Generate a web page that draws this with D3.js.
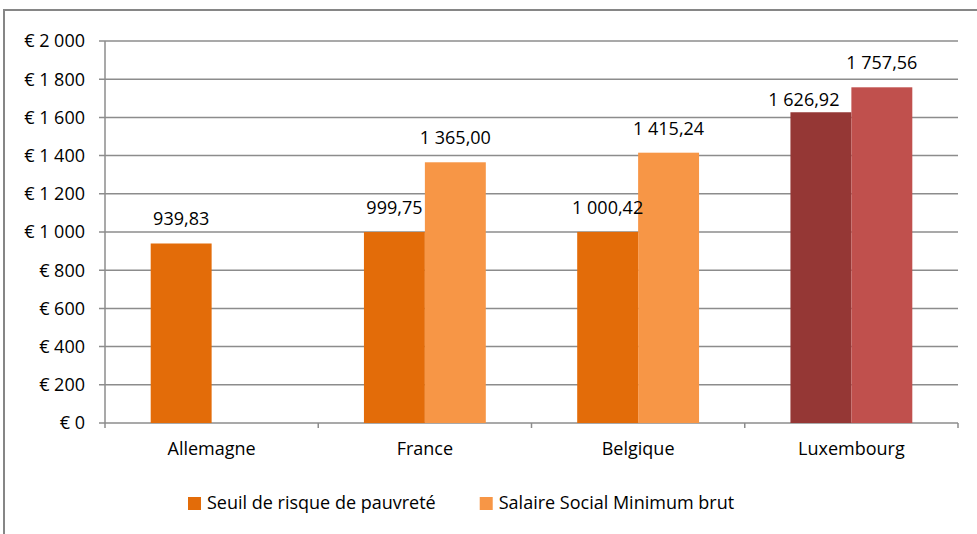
<!DOCTYPE html>
<html>
<head>
<meta charset="utf-8">
<script src="https://cdn.jsdelivr.net/npm/d3@7"></script>
<style>
  body { margin: 0; background: #fff; }
  svg text { font-family: "Open Sans", "Noto Sans", sans-serif; fill: #000; }
</style>
</head>
<body>
<div id="chart"></div>
<script>
// data
const categories = ["Allemagne", "France", "Belgique", "Luxembourg"];
const seriesNames = ["Seuil de risque de pauvreté", "Salaire Social Minimum brut"];
const seuil = [939.83, 999.75, 1000.42, 1626.92];
const salaire = [null, 1365.00, 1415.24, 1757.56];
const yTicks = [0, 200, 400, 600, 800, 1000, 1200, 1400, 1600, 1800, 2000];

const width = 977, height = 534;
const fontSize = 18;
const seriesColors = ["#E36C09", "#F79646"];
// Luxembourg bars are coloured differently in the original
const pointColors = {"Luxembourg": ["#953735", "#C0504D"]};
// Excel moved one label to avoid overlap
const labelNudge = {"Luxembourg|0": {dx: -17, dy: 12}};

const plot = {left: 105, right: 958, top: 41, bottom: 423};

const svg = d3.select("#chart").append("svg")
  .attr("width", width)
  .attr("height", height);

// outer chart frame (right/bottom edges fall outside the picture)
svg.append("rect")
  .attr("x", 4).attr("y", 10)
  .attr("width", width + 10).attr("height", height + 10)
  .attr("fill", "none")
  .attr("stroke", "#868686")
  .attr("stroke-width", 2);

const x = d3.scaleBand()
  .domain(categories)
  .range([plot.left, plot.right])
  .paddingInner(0)
  .paddingOuter(0);

const x1 = d3.scaleBand()
  .domain([0, 1])
  .range([0, x.bandwidth()])
  .paddingOuter(0.75)
  .paddingInner(0);

const y = d3.scaleLinear()
  .domain([0, 2000])
  .range([plot.bottom, plot.top]);

const fmt = d3.formatLocale({decimal: ",", thousands: "\u00a0", grouping: [3], currency: ["€\u00a0", ""]});
const tickFmt = v => "€\u00a0" + fmt.format(",d")(v);
const labelFmt = fmt.format(",.2f");

// gridlines
svg.append("g")
  .selectAll("line")
  .data(yTicks)
  .join("line")
  .attr("x1", plot.left - 6)
  .attr("x2", plot.right)
  .attr("y1", d => y(d))
  .attr("y2", d => y(d))
  .attr("stroke", "#8c8c8c")
  .attr("stroke-width", 1.5);

// y axis line
svg.append("line")
  .attr("x1", plot.left).attr("x2", plot.left)
  .attr("y1", plot.top).attr("y2", plot.bottom + 5)
  .attr("stroke", "#8c8c8c")
  .attr("stroke-width", 1.5);

// y tick labels
svg.append("g")
  .selectAll("text")
  .data(yTicks)
  .join("text")
  .attr("x", 85)
  .attr("y", d => y(d))
  .attr("dy", "0.35em")
  .attr("text-anchor", "end")
  .style("font-size", fontSize + "px")
  .text(tickFmt);

// x axis tick marks at band edges
const edges = categories.map(c => x(c) + x.bandwidth()).slice(0, 4);
svg.append("g")
  .selectAll("line")
  .data(edges)
  .join("line")
  .attr("x1", d => d).attr("x2", d => d)
  .attr("y1", plot.bottom).attr("y2", plot.bottom + 5)
  .attr("stroke", "#8c8c8c")
  .attr("stroke-width", 1.5);

// category labels
svg.append("g")
  .selectAll("text")
  .data(categories)
  .join("text")
  .attr("x", d => x(d) + x.bandwidth() / 2)
  .attr("y", 455)
  .attr("text-anchor", "middle")
  .style("font-size", fontSize + "px")
  .text(d => d);

// bars
const rows = [];
[seuil, salaire].forEach((vals, s) => {
  vals.forEach((v, i) => {
    if (v == null) return;
    rows.push({cat: categories[i], s: s, v: v});
  });
});

const colorFor = d => pointColors[d.cat] ? pointColors[d.cat][d.s] : seriesColors[d.s];

svg.append("g")
  .selectAll("rect")
  .data(rows)
  .join("rect")
  .attr("x", d => x(d.cat) + x1(d.s))
  .attr("y", d => y(d.v))
  .attr("width", x1.bandwidth())
  .attr("height", d => y(0) - y(d.v))
  .attr("fill", colorFor);

// value labels
svg.append("g")
  .selectAll("text")
  .data(rows)
  .join("text")
  .attr("x", d => x(d.cat) + x1(d.s) + x1.bandwidth() / 2 + ((labelNudge[d.cat + "|" + d.s] || {}).dx || 0))
  .attr("y", d => y(d.v) - 18 + ((labelNudge[d.cat + "|" + d.s] || {}).dy || 0))
  .attr("text-anchor", "middle")
  .style("font-size", fontSize + "px")
  .text(d => labelFmt(d.v));

// legend
const legend = svg.append("g");
let lx = 188;
seriesNames.forEach((name, s) => {
  legend.append("rect")
    .attr("x", lx).attr("y", 497)
    .attr("width", 13).attr("height", 13)
    .attr("fill", seriesColors[s]);
  const t = legend.append("text")
    .attr("x", lx + 19)
    .attr("y", 503)
    .attr("dy", "0.35em")
    .style("font-size", fontSize + "px")
    .text(name);
  lx = lx + 19 + t.node().getComputedTextLength() + 44;
});
</script>
</body>
</html>
